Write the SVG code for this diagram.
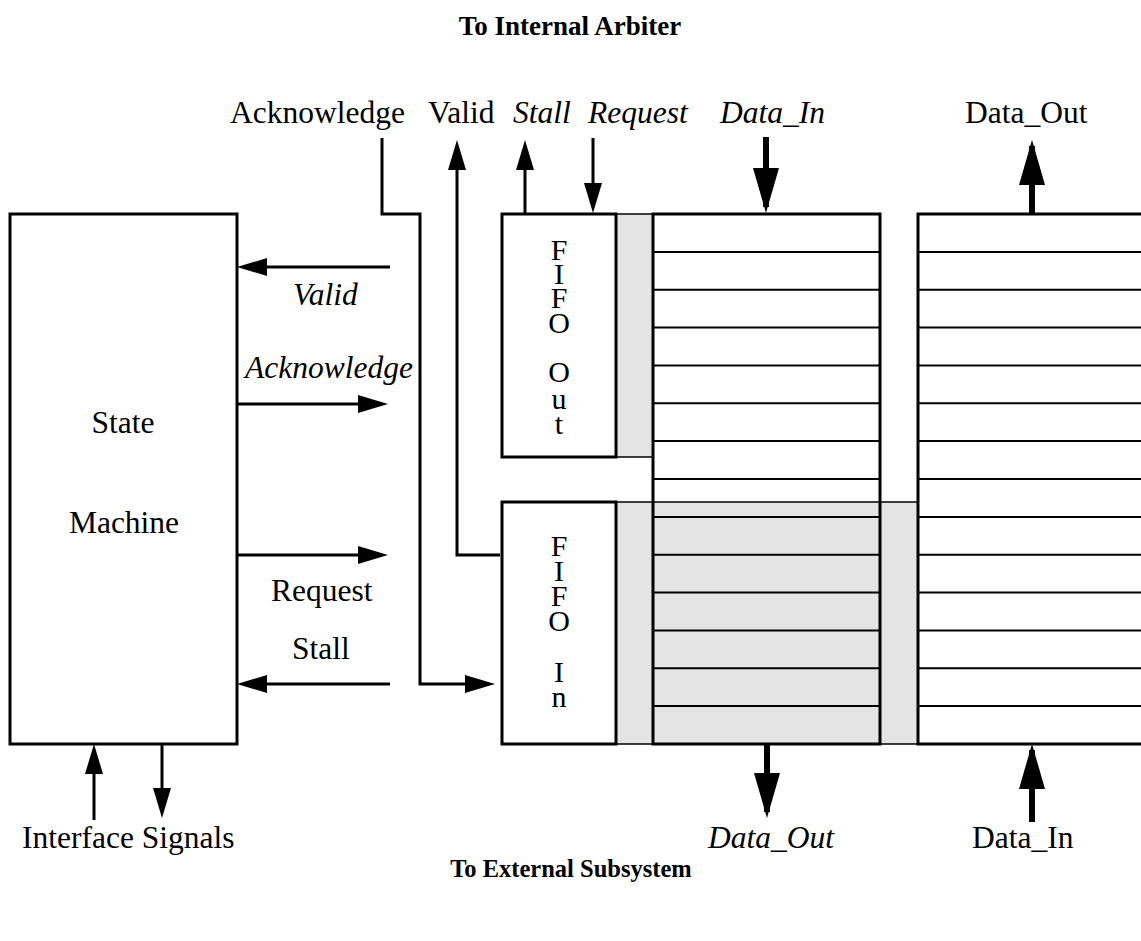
<svg xmlns="http://www.w3.org/2000/svg" width="1141" height="941" viewBox="0 0 1141 941">
  <style>
    text { font-family: "Liberation Serif", "Times New Roman", serif; fill: #000; }
    .lbl { font-size: 31.5px; }
    .fifo { font-size: 30px; }
    .it { font-style: italic; }
    .title { font-weight: bold; }
    .box { fill: #fff; stroke: #000; stroke-width: 3; }
    .shade { fill: #e4e4e4; stroke: #000; stroke-width: 1.5; }
    .row { stroke: #000; stroke-width: 2; fill: none; }
    .wire { stroke: #000; stroke-width: 3; fill: none; }
    .bus { stroke: #000; stroke-width: 6; fill: none; }
  </style>
  <defs>
    <marker id="head" markerUnits="userSpaceOnUse" viewBox="0 0 30 18" markerWidth="30" markerHeight="18" refX="24" refY="9" orient="auto">
      <path d="M0,0 L30,9 L0,18 z" fill="#000"/>
    </marker>
    <marker id="bighead" markerUnits="userSpaceOnUse" viewBox="0 0 45 26" markerWidth="45" markerHeight="26" refX="39" refY="13" orient="auto">
      <path d="M0,0 L45,13 L0,26 z" fill="#000"/>
    </marker>
  </defs>

  <rect width="1141" height="941" fill="#fff"/>

  <!-- titles -->
  <text class="title" x="570" y="35" font-size="27" text-anchor="middle">To Internal Arbiter</text>
  <text class="title" x="571" y="877" font-size="24.5" text-anchor="middle">To External Subsystem</text>

  <!-- state machine -->
  <g id="state-machine">
    <rect class="box" x="10" y="214" width="227" height="530"/>
    <text class="lbl" x="123" y="433" text-anchor="middle">State</text>
    <text class="lbl" x="124" y="533" text-anchor="middle">Machine</text>
  </g>

  <!-- shaded regions of the buffers -->
  <g id="shading">
    <rect class="shade" x="616" y="214" width="37" height="243"/>
    <rect class="shade" x="616" y="502" width="302" height="242"/>
  </g>

  <!-- left data buffer -->
  <g id="buffer-left">
    <path class="row" d="M653,251.9 H880 M653,289.7 H880 M653,327.6 H880 M653,365.4 H880 M653,403.3 H880 M653,441.1 H880 M653,479 H880 M653,516.9 H880 M653,554.7 H880 M653,592.6 H880 M653,630.4 H880 M653,668.3 H880 M653,706.1 H880"/>
    <rect x="653" y="214" width="227" height="530" fill="none" stroke="#000" stroke-width="3"/>
  </g>

  <!-- right data buffer -->
  <g id="buffer-right">
    <path class="row" d="M918,251.9 H1145 M918,289.7 H1145 M918,327.6 H1145 M918,365.4 H1145 M918,403.3 H1145 M918,441.1 H1145 M918,479 H1145 M918,516.9 H1145 M918,554.7 H1145 M918,592.6 H1145 M918,630.4 H1145 M918,668.3 H1145 M918,706.1 H1145"/>
    <rect x="918" y="214" width="240" height="530" fill="none" stroke="#000" stroke-width="3"/>
  </g>

  <!-- FIFO Out -->
  <g id="fifo-out">
    <rect class="box" x="502" y="214" width="114" height="243"/>
    <g class="fifo" text-anchor="middle">
      <text x="559" y="260">F</text>
      <text x="559" y="284">I</text>
      <text x="559" y="308">F</text>
      <text x="559" y="333">O</text>
      <text x="559" y="382">O</text>
      <text x="559" y="409">u</text>
      <text x="559" y="434">t</text>
    </g>
  </g>

  <!-- FIFO In -->
  <g id="fifo-in">
    <rect class="box" x="502" y="502" width="114" height="242"/>
    <g class="fifo" text-anchor="middle">
      <text x="559" y="556">F</text>
      <text x="559" y="581">I</text>
      <text x="559" y="606">F</text>
      <text x="559" y="631">O</text>
      <text x="559" y="682">I</text>
      <text x="559" y="707">n</text>
    </g>
  </g>

  <!-- signal connectors -->
  <g id="connectors">
    <path class="wire" d="M382,138 V214 H420 V684 H489" marker-end="url(#head)"/>
    <path class="wire" d="M500,555 H457 V146" marker-end="url(#head)"/>
    <path class="wire" d="M525,214 V146" marker-end="url(#head)"/>
    <path class="wire" d="M593,138 V207" marker-end="url(#head)"/>
    <path class="wire" d="M390,267 H243" marker-end="url(#head)"/>
    <path class="wire" d="M237,404 H382" marker-end="url(#head)"/>
    <path class="wire" d="M237,555 H382" marker-end="url(#head)"/>
    <path class="wire" d="M390,684 H243" marker-end="url(#head)"/>
    <path class="wire" d="M94,820 V750" marker-end="url(#head)"/>
    <path class="wire" d="M162,744 V812" marker-end="url(#head)"/>
    <path class="bus" d="M766,137 V207" marker-end="url(#bighead)"/>
    <path class="bus" d="M1032,215 V146" marker-end="url(#bighead)"/>
    <path class="bus" d="M767,744 V812" marker-end="url(#bighead)"/>
    <path class="bus" d="M1032,822 V750" marker-end="url(#bighead)"/>
  </g>

  <!-- signal labels -->
  <g id="labels" class="lbl">
    <text x="230" y="123">Acknowledge</text>
    <text x="428" y="123">Valid</text>
    <text class="it" x="513" y="123">Stall</text>
    <text class="it" x="588" y="123">Request</text>
    <text class="it" x="720" y="123">Data_In</text>
    <text x="965" y="123">Data_Out</text>
    <text class="it" x="293" y="305">Valid</text>
    <text class="it" x="245" y="378">Acknowledge</text>
    <text x="271" y="601">Request</text>
    <text x="292" y="659">Stall</text>
    <text x="22" y="848">Interface Signals</text>
    <text class="it" x="708" y="848">Data_Out</text>
    <text x="972" y="848">Data_In</text>
  </g>
</svg>
